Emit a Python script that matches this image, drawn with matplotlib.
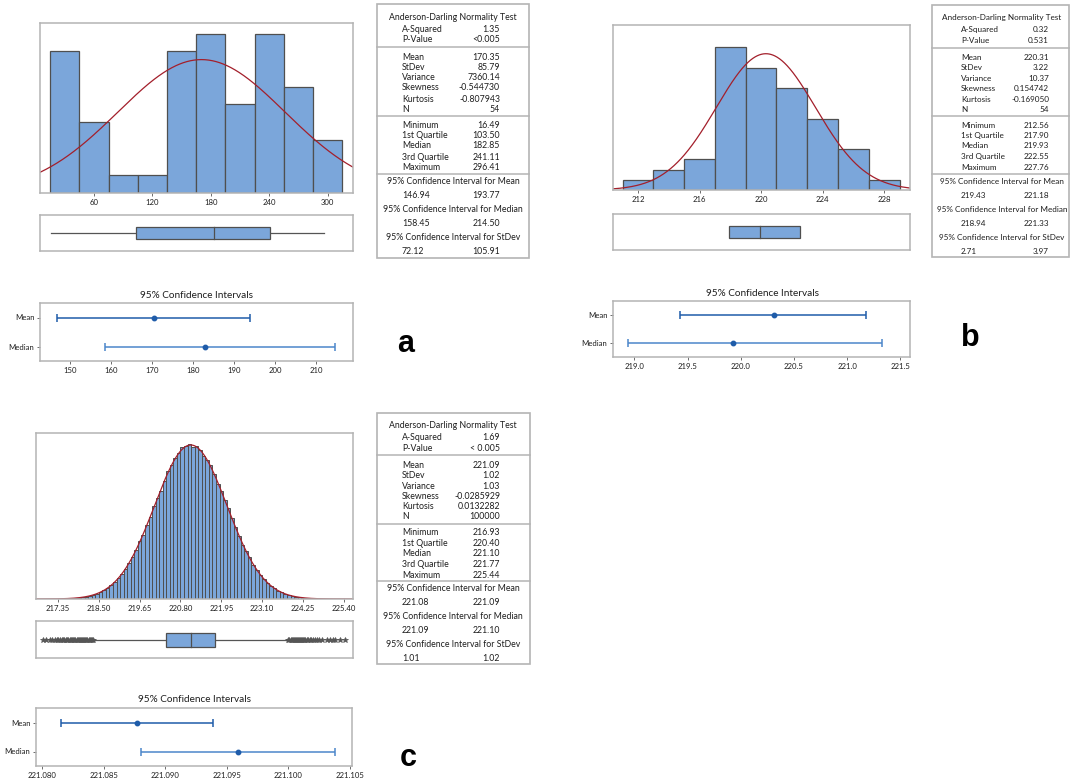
import numpy as np
import matplotlib
matplotlib.use("Agg")
import matplotlib.pyplot as plt
from matplotlib.patches import Rectangle

plt.rcParams['font.family'] = ['Lato', 'DejaVu Sans']

# ---------------- data ----------------
# panel a
a_edges = [15, 45, 75, 105, 135, 165, 195, 225, 255, 285, 315]
a_counts = [8, 4, 1, 1, 8, 9, 5, 9, 6, 3]
a_mean, a_sd, a_n = 170.35, 85.79, 54
a_box = [16.49, 103.50, 182.85, 241.11, 296.41]  # min, q1, med, q3, max
a_ticks = [60, 120, 180, 240, 300]
a_ad = ["1.35", "<0.005"]
a_desc = ["170.35", "85.79", "7360.14", "-0.544730", "-0.807943", "54"]
a_quart = ["16.49", "103.50", "182.85", "241.11", "296.41"]
a_ci_txt = [("146.94", "193.77"), ("158.45", "214.50"), ("72.12", "105.91")]
a_ci_mean = (146.94, 170.35, 193.77)
a_ci_med = (158.45, 182.85, 214.50)
a_ci_ticks = [150, 160, 170, 180, 190, 200, 210]

# panel b
b_edges = [211, 213, 215, 217, 219, 221, 223, 225, 227, 229]
b_counts = [1, 2, 3, 14, 12, 10, 7, 4, 1]
b_mean, b_sd, b_n = 220.31, 3.22, 54
b_box = [217.90, 219.93, 222.55]  # q1, med, q3 (whiskers not visible)
b_ticks = [212, 216, 220, 224, 228]
b_ad = ["0.32", "0.531"]
b_desc = ["220.31", "3.22", "10.37", "0.154742", "-0.169050", "54"]
b_quart = ["212.56", "217.90", "219.93", "222.55", "227.76"]
b_ci_txt = [("219.43", "221.18"), ("218.94", "221.33"), ("2.71", "3.97")]
b_ci_mean = (219.43, 220.31, 221.18)
b_ci_med = (218.94, 219.93, 221.33)
b_ci_ticks = [219.0, 219.5, 220.0, 220.5, 221.0, 221.5]

# panel c
c_bin_start, c_bin_width = 216.9, 0.1
c_counts = [1, 2, 2, 3, 5, 7, 9, 13, 18, 25,
            34, 46, 61, 81, 106, 137, 176, 224, 281, 351,
            433, 529, 641, 769, 913, 1074, 1251, 1478, 1622, 1868,
            2094, 2360, 2557, 2745, 3006, 3250, 3400, 3590, 3699, 3850,
            3874, 3945, 3870, 3890, 3786, 3640, 3533, 3400, 3172, 2930,
            2742, 2512, 2310, 2049, 1824, 1609, 1380, 1215, 1065, 870,
            742, 618, 520, 415, 336, 269, 214, 168, 131, 101,
            77, 58, 43, 32, 24, 17, 12, 9, 6, 4,
            3, 2, 1, 1, 0, 1]
c_mean, c_sd, c_n = 221.09, 1.02, 100000
c_box = [218.35, 220.40, 221.10, 221.77, 223.82]  # whisker lo, q1, med, q3, whisker hi
c_out_lo = [216.93, 217.01, 217.12, 217.19, 217.26, 217.31, 217.36, 217.40, 217.45,
            217.49, 217.53, 217.57, 217.61, 217.64, 217.68, 217.71, 217.75, 217.78,
            217.81, 217.84, 217.88, 217.91, 217.94, 217.97, 218.00, 218.03, 218.06,
            218.09, 218.12, 218.15, 218.18, 218.21, 218.24, 218.27, 218.30, 218.33]
c_out_hi = [223.84, 223.87, 223.90, 223.93, 223.96, 223.99, 224.02, 224.05, 224.08,
            224.11, 224.14, 224.17, 224.20, 224.23, 224.26, 224.29, 224.32, 224.36,
            224.40, 224.44, 224.48, 224.53, 224.58, 224.64, 224.71, 224.80, 224.92,
            225.02, 225.09, 225.16, 225.30, 225.44]
c_ticks = [217.35, 218.50, 219.65, 220.80, 221.95, 223.10, 224.25, 225.40]
c_ad = ["1.69", "< 0.005"]
c_desc = ["221.09", "1.02", "1.03", "-0.0285929", "0.0132282", "100000"]
c_quart = ["216.93", "220.40", "221.10", "221.77", "225.44"]
c_ci_txt = [("221.08", "221.09"), ("221.09", "221.10"), ("1.01", "1.02")]
c_ci_mean = (221.0815, 221.0877, 221.0939)
c_ci_med = (221.0880, 221.0959, 221.1038)
c_ci_ticks = [221.080, 221.085, 221.090, 221.095, 221.100, 221.105]

desc_labels = ["Mean", "StDev", "Variance", "Skewness", "Kurtosis", "N"]
quart_labels = ["Minimum", "1st Quartile", "Median", "3rd Quartile", "Maximum"]
ci_heads = ["95% Confidence Interval for Mean", "95% Confidence Interval for Median",
            "95% Confidence Interval for StDev"]

# ---------------- style ----------------
bar_blue = '#7BA6DA'
edge_grey = '#4F4F4F'
frame_grey = '#B4B4B4'
curve_red = '#A31F2B'
text_col = '#1E1E1E'
mean_col = '#1F5CA9'
med_col = '#4C86CA'

W, H = 1070, 780
fig = plt.figure(figsize=(W / 100, H / 100), dpi=100)


def ax_px(l, t, r, b):
    return fig.add_axes([l / W, 1 - b / H, (r - l) / W, (b - t) / H])


def frame(ax):
    for s in ax.spines.values():
        s.set_color(frame_grey)
        s.set_linewidth(1.1)


def hist_panel(box, edges, counts, mean, sd, n, xlim, ytop, ticks, fmt, lw=0.9):
    ax = ax_px(*box)
    edges = np.asarray(edges, float)
    widths = np.diff(edges)
    ax.bar(edges[:-1], counts, width=widths, align='edge', color=bar_blue,
           edgecolor=edge_grey, linewidth=lw)
    xs = np.linspace(xlim[0], xlim[1], 600)
    ys = n * widths[0] / (sd * np.sqrt(2 * np.pi)) * np.exp(-0.5 * ((xs - mean) / sd) ** 2)
    ax.plot(xs, ys, color=curve_red, lw=0.9)
    ax.set_xlim(*xlim)
    ax.set_ylim(0, ytop)
    ax.set_yticks([])
    ax.set_xticks(ticks)
    ax.set_xticklabels([fmt.format(t) for t in ticks])
    ax.tick_params(axis='x', labelsize=5.6, length=2.5, width=0.6, color='#555555',
                   labelcolor=text_col, pad=1.5)
    frame(ax)
    return ax


def box_axes(box, xlim):
    ax = ax_px(*box)
    ax.set_xlim(*xlim)
    ax.set_ylim(0, 1)
    ax.set_xticks([])
    ax.set_yticks([])
    frame(ax)
    return ax


def draw_box(ax, q1, med, q3, lo=None, hi=None, y0=0.32, y1=0.66):
    yc = (y0 + y1) / 2
    if lo is not None:
        ax.plot([lo, q1], [yc, yc], color='#555555', lw=0.9)
        ax.plot([q3, hi], [yc, yc], color='#555555', lw=0.9)
    ax.add_patch(Rectangle((q1, y0), q3 - q1, y1 - y0, facecolor=bar_blue,
                           edgecolor=edge_grey, lw=0.9, zorder=3))
    ax.plot([med, med], [y0, y1], color=edge_grey, lw=0.9, zorder=4)


def ci_panel(box, mean_ci, med_ci, xlim, ticks, fmt, title, title_xy):
    ax = ax_px(*box)
    for (lo, pt, hi), y, col in [(mean_ci, 1, mean_col), (med_ci, 0, med_col)]:
        ax.errorbar([pt], [y], xerr=[[pt - lo], [hi - pt]], fmt='o', ms=3.2,
                    mfc=mean_col, mec=mean_col, ecolor=col, elinewidth=1.1,
                    capsize=3, capthick=1.1)
    ax.set_xlim(*xlim)
    ax.set_ylim(-0.5, 1.5)
    ax.set_yticks([1, 0])
    ax.set_yticklabels(["Mean", "Median"])
    ax.set_xticks(ticks)
    ax.set_xticklabels([fmt.format(t) for t in ticks])
    ax.tick_params(labelsize=5.6, length=2.5, width=0.6, color='#555555',
                   labelcolor=text_col, pad=1.5)
    frame(ax)
    fig.text(title_xy[0] / W, 1 - title_xy[1] / H, title, ha='center', va='center',
             fontsize=7.2, color=text_col)
    return ax


# table row offsets (px from table top, for a 254 px tall table)
off_head = 13
off_ad = [25, 36]
off_desc = [53, 63, 74, 84, 95, 105]
off_quart = [121, 132, 142, 153, 164]
off_lines = [43, 112, 170]
off_ci_head = [178, 206, 234]
off_ci_val = [192, 220, 248]


def draw_table(l, t, r, b, lab_x, val_x, head_x, ad, desc, quart, ci, fs=6.3):
    ax = ax_px(l, t, r, b)
    ax.set_xlim(l, r)
    ax.set_ylim(b, t)
    ax.axis('off')
    ax.add_patch(Rectangle((l, t), r - l, b - t, fill=False, ec=frame_grey,
                           lw=1.2, clip_on=False))
    s = (b - t) / 254.0
    kw = dict(fontsize=fs, color=text_col, va='center', clip_on=False)
    ax.text(head_x, t + off_head * s, "Anderson-Darling Normality Test", ha='center', **kw)
    for lab, val, o in zip(["A-Squared", "P-Value"], ad, off_ad):
        ax.text(lab_x, t + o * s, lab, ha='left', **kw)
        ax.text(val_x, t + o * s, val, ha='right', **kw)
    for lab, val, o in zip(desc_labels, desc, off_desc):
        ax.text(lab_x, t + o * s, lab, ha='left', **kw)
        ax.text(val_x, t + o * s, val, ha='right', **kw)
    for lab, val, o in zip(quart_labels, quart, off_quart):
        ax.text(lab_x, t + o * s, lab, ha='left', **kw)
        ax.text(val_x, t + o * s, val, ha='right', **kw)
    for o in off_lines:
        ax.plot([l, r], [t + o * s, t + o * s], color=frame_grey, lw=1.1, clip_on=False)
    for head, (lo, hi), oh, ov in zip(ci_heads, ci, off_ci_head, off_ci_val):
        ax.text(head_x, t + oh * s, head, ha='center', **kw)
        ax.text(lab_x, t + ov * s, lo, ha='left', **kw)
        ax.text(val_x, t + ov * s, hi, ha='right', **kw)


# ---------------- panel a ----------------
a_xlim = (4.7, 325.8)
hist_panel((40, 23, 353, 193), a_edges, a_counts, a_mean, a_sd, a_n, a_xlim, 9.6,
           a_ticks, "{:d}")
bx = box_axes((40, 215, 353, 251), a_xlim)
draw_box(bx, a_box[1], a_box[2], a_box[3], a_box[0], a_box[4])
draw_table(377, 4, 529, 258, 402, 500, 453, a_ad, a_desc, a_quart, a_ci_txt)
ci_panel((40, 303, 353, 361), a_ci_mean, a_ci_med, (142.7, 218.9), a_ci_ticks, "{:d}",
         "95% Confidence Intervals", (196, 295))
fig.text(406 / W, 1 - 344 / H, "a", fontsize=22, fontweight='bold',
         family='Liberation Sans', ha='center', va='center')

# ---------------- panel b ----------------
b_xlim = (210.37, 229.68)
hist_panel((613, 25, 910, 190), b_edges, b_counts, b_mean, b_sd, b_n, b_xlim, 16.2,
           b_ticks, "{:d}")
bx = box_axes((613, 214, 910, 250), b_xlim)
draw_box(bx, b_box[0], b_box[1], b_box[2])
draw_table(932, 5, 1069, 257, 961, 1049, 1002, b_ad, b_desc, b_quart, b_ci_txt, fs=5.9)
ci_panel((613, 301, 910, 357), b_ci_mean, b_ci_med, (218.80, 221.59), b_ci_ticks,
         "{:.1f}", "95% Confidence Intervals", (762, 293))
fig.text(970 / W, 1 - 338 / H, "b", fontsize=22, fontweight='bold',
         family='Liberation Sans', ha='center', va='center')

# ---------------- panel c ----------------
c_xlim = (216.73, 225.66)
c_edges = c_bin_start + c_bin_width * np.arange(len(c_counts) + 1)
hist_panel((36, 433, 353, 599), c_edges, c_counts, c_mean, c_sd, c_n, c_xlim, 4215,
           c_ticks, "{:.2f}", lw=0.7)
bx = box_axes((36, 621, 353, 658), c_xlim)
draw_box(bx, c_box[1], c_box[2], c_box[3], c_box[0], c_box[4], y0=0.31, y1=0.67)
bx.plot(c_out_lo + c_out_hi, [0.49] * (len(c_out_lo) + len(c_out_hi)), ls='none',
        marker='*', ms=4, color='#555555', mew=0.5)
draw_table(377, 413, 530, 664, 402, 500, 453, c_ad, c_desc, c_quart, c_ci_txt)
ci_panel((36, 708, 352, 766), c_ci_mean, c_ci_med, (221.0795, 221.1052), c_ci_ticks,
         "{:.3f}", "95% Confidence Intervals", (194, 700))
fig.text(408 / W, 1 - 758 / H, "c", fontsize=22, fontweight='bold',
         family='Liberation Sans', ha='center', va='center')

fig.savefig("out.png", dpi=100, facecolor='white')
